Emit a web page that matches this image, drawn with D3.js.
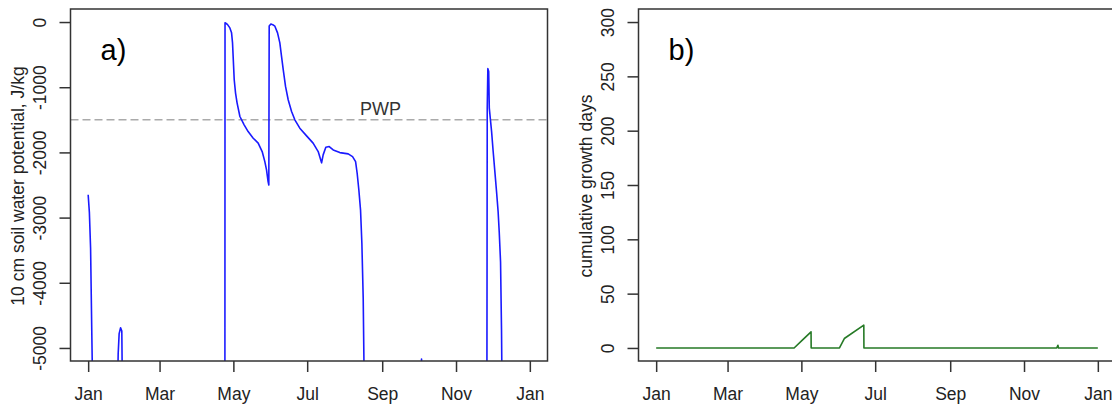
<!DOCTYPE html>
<html>
<head>
<meta charset="utf-8">
<script src="https://cdn.jsdelivr.net/npm/d3@7"></script>
<style>
  body { margin: 0; background: #fff; }
  svg { display: block; font-family: "Liberation Sans", Arial, sans-serif; }
</style>
</head>
<body>
<svg width="1112" height="413"></svg>
<script>
// day of year (0 = Jan 1) and value
// values below the plot bottom are off the chart, kept at -6000 and clipped
var potDays = [0, 1, 2, 3, 4, 24, 24.8, 25.6, 26.8, 27.8, 28.5,
  113, 113.1, 114, 115.2, 117.1, 118.5, 119.3, 120.7, 121.8, 123.1, 125.4, 128.9, 132.2, 136.4, 140.5,
  143.8, 146, 147.4, 148.7, 149.3, 149.6, 151, 152.5, 154.3, 156.5, 158.4, 159.8, 161.2, 163.1, 165.3,
  168.1, 170.8, 174.9, 180.5, 185.9, 190.1, 192.9, 194.2, 196.4, 199.2, 202.5, 208, 214.9, 218.5, 221,
  222.3, 223.7, 225.1, 226.2, 227.3, 228.4,
  275, 275.5, 276,
  329.5, 329.8, 330.3, 331, 331.5, 333.4, 334.7, 336.1, 337.5, 338.8, 339.7, 340.8, 341.6, 342.2, 365];
var potValues = [-2650, -2920, -3470, -4770, -6000, -6000, -5090, -4780, -4690, -4740, -6000,
  -6000, -10, -20, -40, -90, -166, -320, -885, -1090, -1243, -1449, -1577, -1680, -1782, -1858,
  -1987, -2141, -2269, -2449, -2500, -60, -30, -40, -64, -166, -320, -526, -730, -988, -1192,
  -1372, -1500, -1628, -1746, -1858, -1987, -2160, -2038, -1920, -1910, -1962, -2003, -2023, -2064, -2141,
  -2320, -2577, -2885, -3397, -4243, -6000,
  -6000, -5170, -6000,
  -6000, -1320, -715, -760, -1320, -1680, -1987, -2295, -2603, -2910, -3218, -3680, -4730, -6000, -6000];

var growDays = [0, 114, 121, 128, 128.1, 151.5, 155.5, 171.6, 171.7, 331, 332, 332.5, 365];
var growValues = [0, 0, 7.5, 14.8, 0, 0, 8.7, 21, 0, 0, 2.5, 0, 0];

var pwp = -1500;
var potTicks = [0, -1000, -2000, -3000, -4000, -5000];
var growTicks = [0, 50, 100, 150, 200, 250, 300];

var svg = d3.select("svg");
var year0 = new Date(2017, 0, 1);
function toDate(d) { return new Date(year0.getTime() + d * 864e5); }
var pad = 0.04 * 365;

var plotTop = 9, plotBottom = 361;

function panel(left, right, ydom, ticks, ylabel, tag, values, days, color, id) {
  var x = d3.scaleTime()
      .domain([toDate(-pad), toDate(365 + pad)])
      .range([left, right]);
  var span = ydom[1] - ydom[0];
  var y = d3.scaleLinear()
      .domain([ydom[0] - 0.04 * span, ydom[1] + 0.04 * span])
      .range([plotBottom, plotTop]);

  svg.append("clipPath").attr("id", id)
    .append("rect")
      .attr("x", left).attr("y", plotTop)
      .attr("width", right - left).attr("height", plotBottom - plotTop);

  var g = svg.append("g");

  //Axe X
  var xa = g.append("g")
      .attr("transform", "translate(0," + plotBottom + ")")
      .call(d3.axisBottom(x)
        .tickValues(d3.range(0, 13, 2).map(function(m) { return new Date(2017, m, 1); }))
        .tickFormat(d3.timeFormat("%b"))
        .tickSize(11).tickPadding(0));
  xa.select(".domain").remove();
  xa.selectAll("line").attr("stroke", "#333").attr("stroke-width", 1.5);
  xa.selectAll("text")
      .attr("y", 39).attr("dy", 0)
      .attr("fill", "#222")
      .attr("font-size", 17.5)
      .attr("font-family", "Liberation Sans, Arial, sans-serif");

  //Axe Y
  var ya = g.append("g")
      .attr("transform", "translate(" + left + ",0)")
      .call(d3.axisLeft(y).tickValues(ticks)
        .tickFormat(function(d) { return String(d); })
        .tickSize(11));
  ya.select(".domain").remove();
  ya.selectAll("line").attr("stroke", "#333").attr("stroke-width", 1.5);
  ya.selectAll("text")
      .attr("transform", "rotate(-90)")
      .attr("x", 0).attr("y", -25).attr("dy", 0)
      .attr("text-anchor", "middle")
      .attr("fill", "#222")
      .attr("font-size", 17.5)
      .attr("font-family", "Liberation Sans, Arial, sans-serif");

  g.append("text")
      .attr("transform", "translate(" + (left - 47) + "," + ((plotTop + plotBottom) / 2 + 1) + ") rotate(-90)")
      .attr("text-anchor", "middle")
      .attr("font-size", 17.5)
      .attr("fill", "#222")
      .text(ylabel);

  g.append("text")
      .attr("x", left + 30).attr("y", 60)
      .attr("font-size", 29)
      .attr("fill", "#000")
      .text(tag);

  var line = d3.line()
      .x(function(d) { return x(toDate(d[0])); })
      .y(function(d) { return y(d[1]); });

  g.append("path")
      .attr("class", "serie")
      .datum(days.map(function(d, i) { return [d, values[i]]; }))
      .attr("clip-path", "url(#" + id + ")")
      .attr("fill", "none")
      .attr("stroke", color)
      .attr("stroke-width", 1.6)
      .attr("stroke-linejoin", "round")
      .attr("d", line);

  g.append("rect")
      .attr("x", left).attr("y", plotTop)
      .attr("width", right - left).attr("height", plotBottom - plotTop)
      .attr("fill", "none")
      .attr("stroke", "#333")
      .attr("stroke-width", 1.5);

  return {x: x, y: y, g: g};
}

var a = panel(70.5, 547.5, [-5000, 0], potTicks, "10 cm soil water potential, J/kg", "a)",
  potValues, potDays, "#1a1aff", "clipA");

// ligne PWP
a.g.insert("line", ".serie")
    .attr("x1", 70.5).attr("x2", 547.5)
    .attr("y1", a.y(pwp)).attr("y2", a.y(pwp))
    .attr("stroke", "#aaa")
    .attr("stroke-width", 1.5)
    .attr("stroke-dasharray", "8,4");
a.g.append("text")
    .attr("x", 380.5).attr("y", 115)
    .attr("text-anchor", "middle")
    .attr("font-size", 18)
    .attr("fill", "#333")
    .text("PWP");

panel(638.5, 1115.5, [0, 300], growTicks, "cumulative growth days", "b)",
  growValues, growDays, "#267a26", "clipB");
</script>
</body>
</html>
